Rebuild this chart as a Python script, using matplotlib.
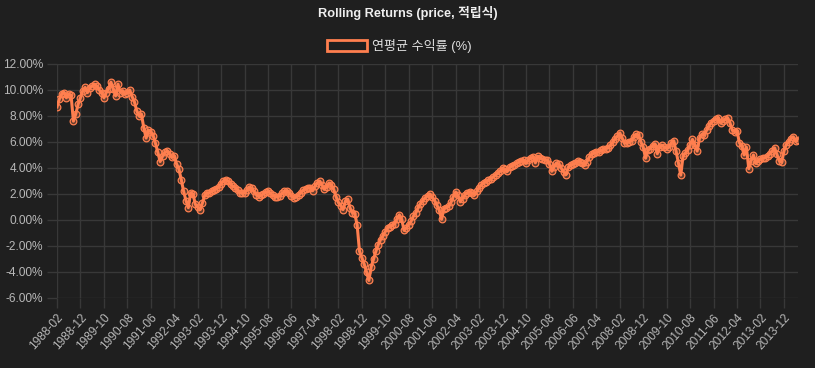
import matplotlib
matplotlib.use("Agg")
import matplotlib.pyplot as plt
import matplotlib.patches as mpatches
import numpy as np
import pandas as pd

plt.rcParams['font.family'] = ['Liberation Sans', 'Noto Sans CJK KR', 'DejaVu Sans']

# monthly dates 1988-02 .. 2014-06
months = [p.strftime('%Y-%m') for p in pd.period_range('1988-02', '2014-06', freq='M')]

# rolling annualised return (%)
returns = [
    8.7, 9.3, 9.7, 9.8, 9.4, 9.7, 9.6, 7.6, 8.15, 8.9,
    9.4, 9.95, 10.2, 9.8, 10.15, 10.3, 10.45, 10.3, 10.0, 9.8,
    9.4, 9.8, 10.1, 10.6, 10.1, 9.55, 10.45, 9.8, 9.95, 9.7,
    9.75, 10.0, 9.5, 9.1, 8.4, 8.0, 8.15, 7.1, 6.3, 6.9,
    6.8, 6.5, 5.9, 5.2, 4.5, 4.9, 5.2, 5.3, 5.1, 4.85,
    4.9, 4.3, 3.9, 3.1, 2.2, 1.5, 0.95, 2.1, 2.0, 1.2,
    1.0, 0.8, 1.3, 1.9, 2.05, 2.1, 2.2, 2.3, 2.4, 2.55,
    2.8, 3.0, 3.1, 3.0, 2.75, 2.6, 2.5, 2.3, 2.1, 2.05,
    2.1, 2.3, 2.55, 2.45, 2.2, 1.95, 1.8, 1.9, 2.0, 2.15,
    2.2, 2.05, 1.9, 1.8, 1.8, 1.85, 2.05, 2.2, 2.25, 2.1,
    1.85, 1.7, 1.75, 1.9, 2.1, 2.3, 2.4, 2.45, 2.5, 2.25,
    2.6, 2.85, 3.0, 2.7, 2.35, 2.55, 2.85, 2.7, 2.35, 1.8,
    1.35, 1.1, 0.8, 1.45, 1.6, 0.9, 0.55, 0.5, -0.4, -2.4,
    -2.9, -3.4, -4.0, -4.65, -3.6, -3.0, -2.4, -1.9, -1.5, -1.2,
    -0.9, -0.6, -0.5, -0.4, -0.3, 0.1, 0.4, 0.05, -0.8, -0.6,
    -0.35, -0.1, 0.3, 0.55, 0.95, 1.25, 1.5, 1.7, 1.85, 2.0,
    1.75, 1.5, 1.15, 0.75, 0.05, 0.85, 0.95, 1.05, 1.35, 1.8,
    2.15, 1.9, 1.4, 1.65, 1.95, 2.1, 2.15, 2.1, 1.95, 2.2,
    2.5, 2.7, 2.85, 2.95, 3.05, 3.15, 3.3, 3.45, 3.6, 3.75,
    4.0, 3.9, 3.75, 4.05, 4.15, 4.25, 4.35, 4.45, 4.55, 4.6,
    4.35, 4.6, 4.75, 4.85, 4.4, 4.9, 4.75, 4.7, 4.65, 4.6,
    4.3, 3.75, 4.1, 4.4, 4.3, 4.0, 3.7, 3.5, 4.05, 4.2,
    4.3, 4.35, 4.55, 4.5, 4.35, 4.2, 4.5, 4.85, 5.05, 5.15,
    5.2, 5.25, 5.35, 5.45, 5.5, 5.55, 5.75, 6.0, 6.25, 6.45,
    6.7, 6.3, 5.9, 5.95, 6.0, 6.1, 6.4, 6.6, 6.55, 6.0,
    5.6, 4.75, 5.35, 5.5, 5.7, 5.85, 5.1, 5.6, 5.75, 5.6,
    5.5, 5.6, 5.95, 6.1, 5.3, 4.4, 3.45, 4.95, 5.15, 5.4,
    5.8, 6.2, 5.8, 5.3, 6.3, 6.6, 6.55, 6.9, 7.25, 7.5,
    7.65, 7.75, 7.85, 7.45, 7.6, 7.75, 7.85, 7.45, 6.9, 6.8,
    6.85, 5.95, 5.7, 5.0, 5.6, 3.95, 4.55, 5.0, 4.35, 4.55,
    4.7, 4.75, 4.8, 4.9, 5.1, 5.3, 5.55, 5.05, 4.55, 4.45,
    5.3, 5.8, 6.0, 6.25, 6.4, 6.05, 6.15,
]

bg = '#1f1f1f'
grid = '#383838'
orange = '#ff7f4f'
txt = '#b8b8b8'

fig = plt.figure(figsize=(8.15, 3.68), dpi=100, facecolor=bg)
ax = fig.add_axes([57/815, 1-298/368, (798-57)/815, (298-64)/368], facecolor=bg)

x = np.arange(len(returns))
ax.plot(x, returns, color=orange, lw=2.2, marker='o', ms=4.8,
        mfc=(1, 0.5, 0.31, 0.3), mec=orange, mew=0.9, zorder=3)

ax.set_xlim(0, len(returns) - 1)
ax.set_ylim(-6, 12)
ax.set_yticks(np.arange(-6, 13, 2))
ax.yaxis.set_major_formatter(matplotlib.ticker.FuncFormatter(lambda v, p: f'{v:.2f}%'))

xt = list(range(0, len(months), 10))
ax.set_xticks(xt)
ax.set_xticklabels([months[i] for i in xt], rotation=48, ha='right', va='top',
                   rotation_mode='anchor')

ax.grid(True, color=grid, lw=1)
ax.set_axisbelow(True)
for s in ax.spines.values():
    s.set_visible(False)
ax.tick_params(axis='both', length=7, width=1, color=grid, labelcolor=txt,
               labelsize=8.6, pad=3)

fig.text(0.5, 1-13/368, 'Rolling Returns (price, 적립식)', ha='center', va='center',
         color='#eeeeee', fontsize=9.2, fontweight='bold')

handle = mpatches.Patch(facecolor=bg, edgecolor=orange, lw=2)
leg = fig.legend([handle], ['연평균 수익률 (%)'], loc='center',
                 bbox_to_anchor=(0.49, 1-46/368), frameon=False,
                 handlelength=3.1, handleheight=0.95, handletextpad=0.4,
                 fontsize=9.4)
for t in leg.get_texts():
    t.set_color('#e0e0e0')

fig.savefig('out.png', dpi=100, facecolor=bg)
